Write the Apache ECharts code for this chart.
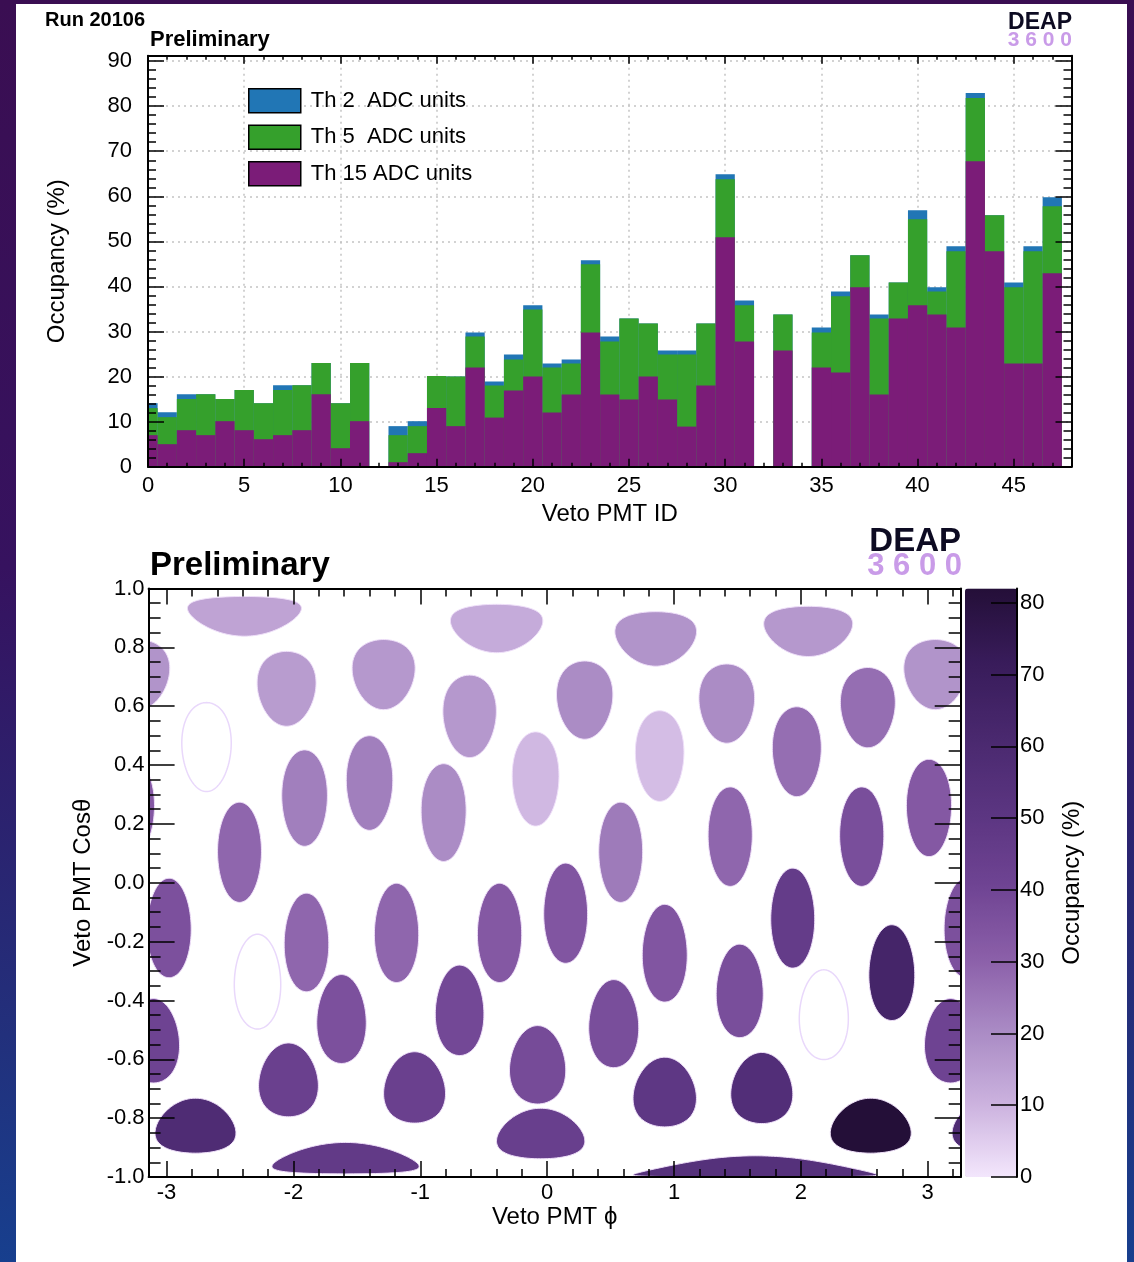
<!DOCTYPE html>
<html>
<head>
<meta charset="utf-8">
<script src="https://cdn.jsdelivr.net/npm/echarts@6/dist/echarts.min.js"></script>
<style>
  html, body { margin: 0; padding: 0; width: 1134px; height: 1262px; overflow: hidden;
    background: linear-gradient(180deg, #3a0e52 0%, #36125f 45%, #22307c 82%, #173f8e 100%); }
  #panel { position: absolute; left: 16px; top: 4px; width: 1111px; height: 1258px; background: #fff; }
  #chart { position: absolute; left: 0; top: 0; width: 1134px; height: 1262px; }
</style>
</head>
<body>
<div id="panel"></div>
<div id="chart"></div>
<script>
// ---------------- data ----------------
// Veto PMT IDs (one bin per PMT)
const pmtIds = [0, 1, 2, 3, 4, 5, 6, 7, 8, 9, 10, 11, 12, 13, 14, 15, 16, 17, 18, 19, 20, 21, 22, 23,
                24, 25, 26, 27, 28, 29, 30, 31, 32, 33, 34, 35, 36, 37, 38, 39, 40, 41, 42, 43, 44, 45, 46, 47];

// Occupancy (%) per PMT at three thresholds
const occTh2 = [14.1, 12.1, 16.1, 16.1, 15.0, 17.0, 14.1, 18.1, 18.1, 23.0, 14.1, 23.0, 0, 9.0, 10.1, 20.1,
                20.0, 29.8, 18.9, 24.9, 35.8, 22.9, 23.8, 45.8, 28.9, 32.9, 31.8, 25.8, 25.8, 31.8, 64.9, 36.9,
                0, 33.8, 0, 30.9, 38.9, 46.9, 33.8, 40.9, 56.9, 39.8, 48.9, 82.9, 55.8, 40.9, 48.9, 59.8];
const occTh5 = [13.0, 11.0, 15.0, 16.1, 15.0, 17.0, 14.1, 17.0, 18.1, 23.0, 14.1, 23.0, 0, 7.0, 9.0, 20.1,
                20.0, 28.9, 18.0, 23.8, 34.9, 22.0, 22.9, 44.9, 27.8, 32.9, 31.8, 24.9, 24.9, 31.8, 63.8, 35.8,
                0, 33.8, 0, 29.8, 37.8, 46.9, 32.9, 40.9, 54.9, 38.9, 47.8, 81.8, 55.8, 39.8, 47.8, 57.8];
const occTh15 = [7.0, 5.0, 8.1, 7.0, 10.1, 8.1, 6.1, 7.0, 8.1, 16.1, 4.1, 10.1, 0, 1.0, 3.0, 13.0,
                 9.0, 22.0, 10.9, 16.9, 20.0, 12.0, 16.0, 29.8, 16.0, 14.9, 20.0, 14.9, 8.9, 18.0, 50.9, 27.8,
                 0, 25.8, 0, 22.0, 20.9, 39.8, 16.0, 32.9, 35.8, 33.8, 30.9, 67.8, 47.8, 22.9, 22.9, 42.9];

const seriesNames = ['Th 2  ADC units', 'Th 5  ADC units', 'Th 15 ADC units'];

// PMT face centres on the (phi, cos theta) map and their occupancy (%)
const blobPhi = [-2.386, -0.398, 0.856, 2.058,
                 3.06, -2.054, -1.289, 0.296, 1.416, 2.528,
                 -2.685, -0.611, 0.887, 1.968, -0.091,
                 -1.912, -1.40, -0.816, 3.01, 0.580, 1.443, -2.425, 2.480,
                 -2.98, -1.897, -1.187, -0.375, 0.146, 0.927, 1.936, 2.717,
                 -2.283, -1.621, -0.690, 0.525, 1.518, 2.181, 3.18,
                 -2.039, -1.045, -0.075, 0.927, 1.692,
                 -2.772, -0.051, 2.551,
                 -1.589, 1.64];
const blobCos = [0.919, 0.877, 0.841, 0.867,
                 0.718, 0.669, 0.718, 0.630, 0.618, 0.604,
                 0.468, 0.574, 0.437, 0.452, 0.358,
                 0.292, 0.344, 0.242, 0.258, 0.105, 0.159, 0.105, 0.159,
                 -0.156, -0.206, -0.173, -0.173, -0.105, -0.243, -0.122, -0.310,
                 -0.341, -0.470, -0.440, -0.486, -0.373, -0.455, -0.545,
                 -0.680, -0.706, -0.628, -0.722, -0.708,
                 -0.838, -0.865, -0.838,
                 -0.950, -0.978];
const blobOcc = [14, 12, 18, 17,
                 18, 16, 17, 20, 20, 27,
                 0, 17, 8, 27, 9,
                 23, 23, 20, 33, 24, 29, 29, 37,
                 36, 29, 29, 33, 34, 34, 46, 64,
                 0, 36, 39, 37, 37, 0, 41,
                 43, 43, 38, 49, 56,
                 58, 44, 82,
                 47, 54];

// axis tick labels
const phiTicks = [-3, -2, -1, 0, 1, 2, 3];
const phiMinorTicks = [-3.0, -2.8, -2.6, -2.4, -2.2, -2.0, -1.8, -1.6, -1.4, -1.2, -1.0, -0.8, -0.6, -0.4, -0.2,
                       0, 0.2, 0.4, 0.6, 0.8, 1.0, 1.2, 1.4, 1.6, 1.8, 2.0, 2.2, 2.4, 2.6, 2.8, 3.0, 3.2];

// ---------------- styling ----------------
const FONT = '"Liberation Sans", Arial, Helvetica, sans-serif';
const BLACK = '#000';
const barColors = ['#2176b5', '#35a02c', '#7b1c78'];
const palette = ['#f3e6fc', '#cbb2de', '#a98ac4', '#8a5ea8', '#6e4392', '#5a3480', '#49286e', '#381c5a', '#240f38'];
const CAP_RADIUS = 0.172;          // angular radius of a PMT face (rad)
const PHI_MIN = -Math.PI, PHI_MAX = 3.26;
const HIST_YMAX = 91.2, COLZ_MAX = 82;
const TICK_FONT = 22;

const chart = echarts.init(document.getElementById('chart'), null, { renderer: 'canvas', width: 1134, height: 1262 });

// generic frame axis (ticks drawn inside, ROOT style)
function frameAxis(o) {
  return {
    gridIndex: o.grid, type: 'value', min: o.min, max: o.max, interval: o.interval, position: o.pos, z: 5,
    axisLine: { show: o.line !== false, onZero: false, lineStyle: { color: BLACK, width: 2 } },
    axisTick: Object.assign({ show: true, inside: true, length: o.tick, lineStyle: { color: BLACK, width: 1.5 } },
                            o.tickValues ? { customValues: o.tickValues } : {}),
    axisLabel: o.label ? Object.assign({ show: true, color: BLACK, fontSize: TICK_FONT, fontFamily: FONT,
                                         margin: o.margin, showMaxLabel: false }, o.label) : { show: false },
    splitLine: { show: false },
    name: o.name || '', nameLocation: 'middle', nameGap: o.nameGap || 0, nameRotate: o.nameRotate,
    nameTextStyle: { fontSize: 24, color: BLACK, fontFamily: FONT }
  };
}
// axis carrying only the dotted grid lines (kept behind the bars)
function gridLineAxis(grid, min, max, interval, pos) {
  return {
    gridIndex: grid, type: 'value', min, max, interval, position: pos, z: 0,
    axisLine: { show: false, onZero: false }, axisTick: { show: false }, axisLabel: { show: false },
    splitLine: { show: true, lineStyle: { color: '#c4c4c4', width: 1.5, type: [2, 4] } }
  };
}

const xAxes = [
  // histogram
  frameAxis({ grid: 0, min: 0, max: 48, interval: 5, pos: 'bottom', tick: 8, margin: 8, label: {},
              name: 'Veto PMT ID', nameGap: 36 }),
  frameAxis({ grid: 0, min: 0, max: 48, interval: 1, pos: 'bottom', tick: 4, line: false }),
  frameAxis({ grid: 0, min: 0, max: 48, interval: 5, pos: 'top', tick: 8 }),
  frameAxis({ grid: 0, min: 0, max: 48, interval: 1, pos: 'top', tick: 4, line: false }),
  gridLineAxis(0, 0, 48, 5, 'bottom'),
  // occupancy map
  frameAxis({ grid: 1, min: PHI_MIN, max: PHI_MAX, pos: 'bottom', tick: 16, margin: 5, tickValues: phiTicks,
              label: { customValues: phiTicks, showMaxLabel: null, showMinLabel: null }, name: 'Veto PMT \u03d5', nameGap: 27 }),
  frameAxis({ grid: 1, min: PHI_MIN, max: PHI_MAX, pos: 'bottom', tick: 8, line: false, tickValues: phiMinorTicks }),
  frameAxis({ grid: 1, min: PHI_MIN, max: PHI_MAX, pos: 'top', tick: 16, tickValues: phiTicks }),
  frameAxis({ grid: 1, min: PHI_MIN, max: PHI_MAX, pos: 'top', tick: 8, line: false, tickValues: phiMinorTicks }),
  // colour scale
  { gridIndex: 2, type: 'value', min: 0, max: 1, show: false }
];

const cosFmt = v => (Math.abs(v) < 1e-9 ? 0 : v).toFixed(1);
const yAxes = [
  frameAxis({ grid: 0, min: 0, max: HIST_YMAX, interval: 10, pos: 'left', tick: 16, margin: 16, label: {},
              name: 'Occupancy (%)', nameGap: 79, nameRotate: 90 }),
  frameAxis({ grid: 0, min: 0, max: HIST_YMAX, interval: 2, pos: 'left', tick: 8, line: false }),
  frameAxis({ grid: 0, min: 0, max: HIST_YMAX, interval: 10, pos: 'right', tick: 16 }),
  frameAxis({ grid: 0, min: 0, max: HIST_YMAX, interval: 2, pos: 'right', tick: 8, line: false }),
  gridLineAxis(0, 0, HIST_YMAX, 10, 'left'),
  frameAxis({ grid: 1, min: -1, max: 1, interval: 0.2, pos: 'left', tick: 26, margin: 4,
              label: { formatter: cosFmt, showMaxLabel: true }, name: 'Veto PMT Cos\u03b8', nameGap: 50, nameRotate: 90 }),
  frameAxis({ grid: 1, min: -1, max: 1, interval: 0.05, pos: 'left', tick: 12, line: false }),
  frameAxis({ grid: 1, min: -1, max: 1, interval: 0.2, pos: 'right', tick: 26 }),
  frameAxis({ grid: 1, min: -1, max: 1, interval: 0.05, pos: 'right', tick: 12, line: false }),
  Object.assign(frameAxis({ grid: 2, min: 0, max: COLZ_MAX, interval: 10, pos: 'right', tick: 26, margin: 3, label: {},
              name: 'Occupancy (%)', nameGap: 43, nameRotate: 90 }), { z: 10 })
];

// histogram bins: each PMT occupies [id-0.5, id+0.5], clipped to the frame
function histSeries(idx, values) {
  return {
    type: 'custom', name: seriesNames[idx], xAxisIndex: 0, yAxisIndex: 0, z: 2,
    itemStyle: { color: barColors[idx] },
    data: pmtIds.map((id, i) => [id, values[i]]),
    renderItem(params, api) {
      const id = api.value(0), v = api.value(1);
      if (!(v > 0)) return null;
      const p0 = api.coord([id - 0.5, v]);
      const p1 = api.coord([id + 0.5, 0]);
      const cs = params.coordSys;
      const r = echarts.graphic.clipRectByRect(
        { x: p0[0], y: p0[1], width: p1[0] - p0[0], height: p1[1] - p0[1] },
        { x: cs.x, y: cs.y, width: cs.width, height: cs.height });
      if (!r) return null;
      return { type: 'rect', shape: r, style: { fill: barColors[idx] } };
    }
  };
}

// outline of a circular PMT face (spherical cap) in (phi, cos theta)
function capOutline(phi0, cos0) {
  const th0 = Math.acos(cos0), s0 = Math.sin(th0);
  const C = [s0 * Math.cos(phi0), s0 * Math.sin(phi0), cos0];
  const U = [cos0 * Math.cos(phi0), cos0 * Math.sin(phi0), -s0];
  const V = [-Math.sin(phi0), Math.cos(phi0), 0];
  const ca = Math.cos(CAP_RADIUS), sa = Math.sin(CAP_RADIUS);
  const pts = [];
  const N = 120;
  for (let k = 0; k < N; k++) {
    const t = 2 * Math.PI * k / N, ct = Math.cos(t), st = Math.sin(t);
    const P = [0, 1, 2].map(i => ca * C[i] + sa * (ct * U[i] + st * V[i]));
    let d = Math.atan2(P[1], P[0]) - phi0;
    d -= 2 * Math.PI * Math.round(d / (2 * Math.PI));
    pts.push([phi0 + d, P[2]]);
  }
  return pts;
}

const mapSeries = {
  type: 'custom', name: 'occupancy map', xAxisIndex: 5, yAxisIndex: 5, clip: true, z: 2,
  data: blobPhi.map((p, i) => [p, blobCos[i], blobOcc[i]]),
  dimensions: ['phi', 'cos', 'occ'],
  renderItem(params, api) {
    const phi0 = api.value(0), c0 = api.value(1), occ = api.value(2);
    const outline = capOutline(phi0, c0);
    const cs = params.coordSys;
    const children = [];
    [-2 * Math.PI, 0, 2 * Math.PI].forEach(shift => {
      const px = outline.map(p => api.coord([p[0] + shift, p[1]]));
      const xs = px.map(p => p[0]);
      if (Math.max(...xs) < cs.x || Math.min(...xs) > cs.x + cs.width) return;
      children.push({
        type: 'polygon', shape: { points: px },
        style: occ > 0 ? { fill: api.visual('color'), stroke: '#efe0f9', lineWidth: 1 }
                       : { fill: 'none', stroke: '#e9d8fb', lineWidth: 1.5 }
      });
    });
    return { type: 'group', children };
  }
};

function label(text, x, y, size, opts) {
  return {
    type: 'text', x, y, z: 20, silent: true,
    style: Object.assign({ text, fontSize: size, fontWeight: 'bold', fontFamily: FONT, fill: BLACK,
                           align: 'left', verticalAlign: 'middle' }, opts || {})
  };
}

const option = {
  animation: false,
  textStyle: { fontFamily: FONT },
  grid: [
    { left: 148, top: 55.7, width: 923.5, height: 411 },
    { left: 148.6, top: 588.5, width: 812.1, height: 588.5 },
    { left: 965, top: 588.5, width: 52, height: 588.5 }
  ],
  legend: {
    orient: 'vertical', left: 248, top: 88, itemWidth: 52, itemHeight: 24, itemGap: 11,
    icon: 'rect', selectedMode: false, padding: 0,
    data: seriesNames.map(n => ({ name: n, itemStyle: { borderColor: BLACK, borderWidth: 1.5 } })),
    textStyle: { fontSize: 22, color: BLACK, fontFamily: FONT, padding: [0, 0, 0, 5] }
  },
  visualMap: {
    type: 'continuous', min: 0, max: COLZ_MAX, dimension: 2, seriesIndex: 3,
    calculable: false, hoverLink: false, realtime: false, orient: 'vertical',
    left: 965, top: 588.5, itemWidth: 52, itemHeight: 588.5, padding: 0, text: null, z: 0,
    inRange: { color: palette }
  },
  xAxis: xAxes,
  yAxis: yAxes,
  series: [histSeries(0, occTh2), histSeries(1, occTh5), histSeries(2, occTh15), mapSeries],
  graphic: [
    label('Run 20106', 45, 20, 20),
    label('Preliminary', 150, 40, 22),
    label('DEAP', 1072, 23, 23, { align: 'right', fill: '#0d0b22' }),
    label('3 6 0 0', 1072, 40, 21, { align: 'right', fill: '#c99be8' }),
    label('Preliminary', 150, 566, 33),
    label('DEAP', 961, 542, 33, { align: 'right', fill: '#0d0b22' }),
    label('3 6 0 0', 962, 566, 31, { align: 'right', fill: '#c99be8' })
  ]
};

chart.setOption(option);
</script>
</body>
</html>
